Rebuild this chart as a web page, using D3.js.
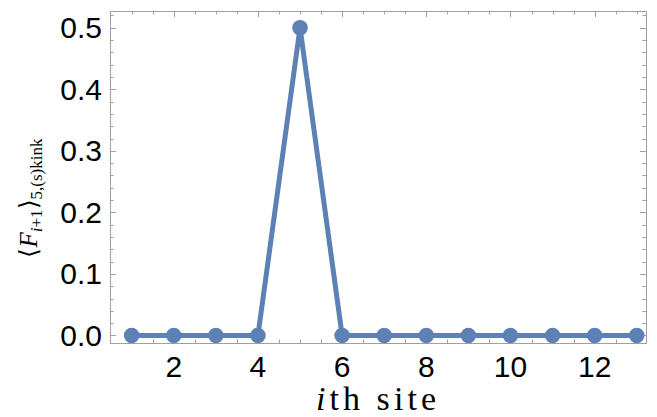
<!DOCTYPE html>
<html><head><meta charset="utf-8">
<script src="https://cdn.jsdelivr.net/npm/d3@7"></script>
<style>body{margin:0;background:#fff}svg{display:block}</style>
</head><body>
<svg id="c" width="657" height="417"></svg>
<script>
const sites = [1,2,3,4,5,6,7,8,9,10,11,12,13];
const values = [0,0,0,0,0.5,0,0,0,0,0,0,0,0];
const xTicks = [2,4,6,8,10,12];
const yTicks = [0,0.1,0.2,0.3,0.4,0.5];
const xDomain = [0.485, 13.22];
const yDomain = [-0.0123, 0.5272];

const svg = d3.select("#c");
const m = {l:110, t:11, r:11, b:74};
const W = 657, H = 417;
const x = d3.scaleLinear().domain(xDomain).range([m.l, W - m.r]);
const y = d3.scaleLinear().domain(yDomain).range([H - m.b, m.t]);
const frameCol = "#a0a0a0";
const col = "#5e81b5";

// frame
svg.append("rect").attr("x", m.l + 0.5).attr("y", m.t + 0.5)
  .attr("width", W - m.r - m.l).attr("height", H - m.b - m.t)
  .attr("fill", "none").attr("stroke", frameCol).attr("stroke-width", 1);

const xMinor = d3.range(1, 13.01, 0.5).filter(v => !xTicks.includes(v));
const yMinor = d3.range(0, 0.521, 0.02).map(v => +v.toFixed(2)).filter(v => !yTicks.some(t => Math.abs(t - v) < 1e-9));

function ticks(g, scale, vals, len, orient) {
  g.selectAll(null).data(vals).enter().append("line")
    .attr("stroke", frameCol).attr("stroke-width", 1)
    .each(function(d) {
      const s = d3.select(this);
      const p = Math.round(scale(d)) + 0.5;
      if (orient === "bottom") s.attr("x1", p).attr("x2", p).attr("y1", H - m.b).attr("y2", H - m.b - len);
      if (orient === "top") s.attr("x1", p).attr("x2", p).attr("y1", m.t).attr("y2", m.t + len);
      if (orient === "left") s.attr("y1", p).attr("y2", p).attr("x1", m.l).attr("x2", m.l + len);
      if (orient === "right") s.attr("y1", p).attr("y2", p).attr("x1", W - m.r).attr("x2", W - m.r - len);
    });
}
const tg = svg.append("g");
["bottom","top"].forEach(o => { ticks(tg, x, xTicks, 6, o); ticks(tg, x, xMinor, 3.5, o); });
["left","right"].forEach(o => { ticks(tg, y, yTicks, 6, o); ticks(tg, y, yMinor, 3.5, o); });

// tick labels
const lf = "'Liberation Sans', Arial, sans-serif";
svg.append("g").selectAll("text").data(xTicks).enter().append("text")
  .attr("x", d => x(d)).attr("y", 377).attr("text-anchor", "middle")
  .attr("font-family", lf).attr("font-size", 30).attr("fill", "#000").text(d => d);
svg.append("g").selectAll("text").data(yTicks).enter().append("text")
  .attr("x", 102).attr("y", d => y(d) + 10.5).attr("text-anchor", "end")
  .attr("font-family", lf).attr("font-size", 30).attr("fill", "#000").text(d => d.toFixed(1));

// line and points
const line = d3.line().x((d, i) => x(sites[i])).y(d => y(d));
svg.append("path").datum(values).attr("d", line)
  .attr("fill", "none").attr("stroke", col).attr("stroke-width", 5).attr("stroke-linejoin", "round");
svg.append("g").selectAll("circle").data(values).enter().append("circle")
  .attr("cx", (d, i) => x(sites[i])).attr("cy", d => y(d)).attr("r", 7.8).attr("fill", col);

// axis labels
const sf = "'Liberation Serif', 'Times New Roman', serif";
const xl = svg.append("text").attr("x", 376).attr("y", 410).attr("text-anchor", "middle")
  .attr("font-family", sf).attr("font-size", 34).attr("fill", "#000")
  .attr("textLength", 120).attr("lengthAdjust", "spacing");
xl.append("tspan").attr("font-style", "italic").text("i");
xl.append("tspan").text("th site");

const yl = svg.append("text").attr("transform", "translate(37,198) rotate(-90)")
  .attr("text-anchor", "middle").attr("font-family", sf).attr("font-size", 25).attr("fill", "#000");
yl.append("tspan").text("\u27E8");
yl.append("tspan").attr("font-style", "italic").text("F");
yl.append("tspan").attr("font-size", 17).attr("dy", 5).attr("font-style", "italic").text("i");
yl.append("tspan").attr("font-size", 17).text("+1");
yl.append("tspan").attr("dy", -5).text("\u27E9");
yl.append("tspan").attr("font-size", 17).attr("dy", 5).text("5,(s)kink");
</script>
</body></html>
